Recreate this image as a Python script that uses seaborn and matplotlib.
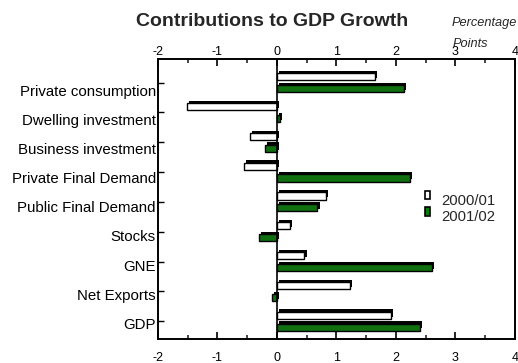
import matplotlib
matplotlib.use("Agg")
import matplotlib.pyplot as plt
import matplotlib.patheffects as pe
import matplotlib.transforms as mtransforms
from matplotlib.ticker import MultipleLocator
from matplotlib.patches import Patch, Rectangle
from matplotlib.legend_handler import HandlerPatch
import seaborn as sns
import pandas as pd

categories = ["Private consumption", "Dwelling investment", "Business investment",
              "Private Final Demand", "Public Final Demand", "Stocks", "GNE",
              "Net Exports", "GDP"]
series_names = ["2000/01", "2001/02"]
values_2000_01 = [1.65, -1.52, -0.45, -0.55, 0.82, 0.22, 0.46, 1.23, 1.92]
values_2001_02 = [2.14, 0.05, -0.20, 2.24, 0.68, -0.30, 2.60, -0.08, 2.40]
x_ticks = [-2, -1, 0, 1, 2, 3, 4]

df = pd.DataFrame({
    "category": categories * 2,
    "year": [series_names[0]] * len(categories) + [series_names[1]] * len(categories),
    "value": values_2000_01 + values_2001_02,
})

sns.set_theme(style="white")
plt.rcParams["font.family"] = ["Liberation Sans", "DejaVu Sans"]
plt.rcParams["axes.unicode_minus"] = False

fig = plt.figure(figsize=(5.18, 3.63), dpi=100)
ax = fig.add_axes([0.305, 0.066, 0.689, 0.772])

palette = {series_names[0]: "white", series_names[1]: "#008000"}
sns.barplot(data=df, y="category", x="value", hue="year", order=categories,
            hue_order=series_names, palette=palette, orient="h",
            width=0.8, gap=0.4, edgecolor="black", linewidth=1.0,
            legend=False, ax=ax)

# 3-D look: dark depth face up and to the right of each bar
for bar in ax.patches:
    bar.set_path_effects([
        pe.SimplePatchShadow(offset=(1.6, 1.6), shadow_rgbFace="black", alpha=1.0),
        pe.Normal(),
    ])

ax.axvline(0, color="black", lw=1.2, zorder=1)

ax.set_xlim(-2, 4)
ax.set_ylim(len(categories) - 0.4, -0.8)
ax.set_xlabel("")
ax.set_ylabel("")

ax.xaxis.set_minor_locator(MultipleLocator(0.5))
ax.set_xticks(x_ticks)
ax.tick_params(axis="x", which="major", direction="in", length=5, width=1.2,
               bottom=True, top=True, labelsize=9, pad=9.5, colors="black")
ax.tick_params(axis="x", which="minor", direction="in", length=3, width=1.2,
               bottom=True, top=True)
ax.tick_params(axis="y", which="major", direction="in", length=4, width=1.0,
               left=True, labelsize=10.8, pad=1.5, colors="black")

# category names sit a little below their tick marks, the gap narrowing downwards
labels = ax.get_yticklabels()
n = len(labels)
for i, lbl in enumerate(labels):
    drop = (8 - 6 * i / (n - 1)) / 100
    shift = mtransforms.ScaledTranslation(0, -drop, fig.dpi_scale_trans)
    lbl.set_transform(lbl.get_transform() + shift)

top = ax.secondary_xaxis("top")
top.set_xticks(x_ticks)
top.tick_params(direction="in", length=0, labelsize=9, pad=0.5, colors="black")
for s in top.spines.values():
    s.set_visible(False)

for s in ax.spines.values():
    s.set_visible(True)
    s.set_color("black")
    s.set_linewidth(1.4)


class RaisedBox(HandlerPatch):
    """Small legend swatch sitting a little above the label's centre line."""
    def create_artists(self, legend, orig_handle, xdescent, ydescent,
                       width, height, fontsize, trans):
        box = Rectangle((-xdescent + width * 0.3, -ydescent + height * 0.55),
                        width * 0.5, height * 0.85,
                        facecolor=orig_handle.get_facecolor(),
                        edgecolor="black", linewidth=1.2, transform=trans)
        return [box]


handles = [Patch(facecolor=palette[n], edgecolor="black") for n in series_names]
ax.legend(handles, series_names, loc="upper left", bbox_to_anchor=(0.70, 0.565),
          frameon=False, fontsize=10.7, handlelength=0.75, handleheight=0.7,
          handletextpad=0.6, labelspacing=0.15,
          handler_map={Patch: RaisedBox()})

fig.text(0.526, 0.94, "Contributions to GDP Growth", ha="center", va="center",
         fontsize=14, fontweight="bold")
fig.text(0.935, 0.938, "Percentage", ha="center", va="center", fontsize=9.2,
         style="italic")
fig.text(0.908, 0.878, "Points", ha="center", va="center", fontsize=9.2,
         style="italic")

fig.savefig("out.png", dpi=100)
